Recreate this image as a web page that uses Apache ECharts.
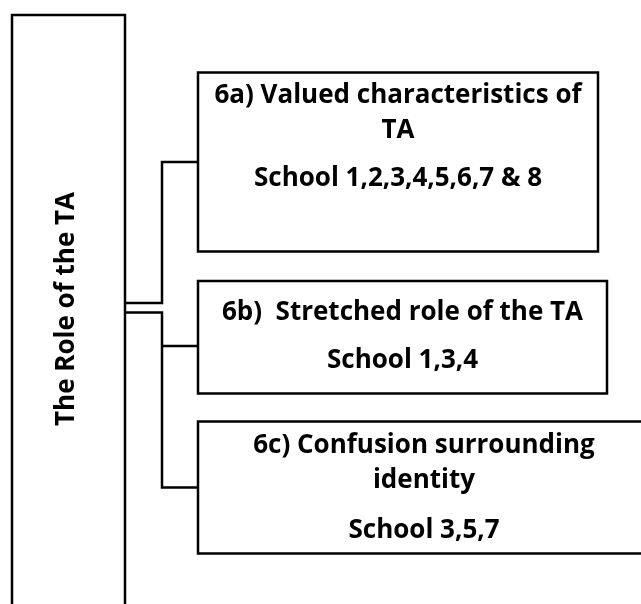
<!DOCTYPE html>
<html>
<head>
<meta charset="utf-8">
<style>
  html, body { margin: 0; padding: 0; background: #fff; }
  #main { width: 641px; height: 604px; }
</style>
<script src="https://cdn.jsdelivr.net/npm/echarts@6/dist/echarts.min.js"></script>
</head>
<body>
<div id="main"></div>
<script>
// diagram texts
var rootLabel = 'The Role of the TA';
var themeTitles = [
    ['6a) Valued characteristics of', 'TA'],
    ['6b)  Stretched role of the TA'],
    ['6c) Confusion surrounding', 'identity']
];
var themeSchools = ['School 1,2,3,4,5,6,7 & 8', 'School 1,3,4', 'School 3,5,7'];

// layout (pixels)
var FONT = 'bold 26px "Open Sans", "Noto Sans", sans-serif';
var LW = 2.5;
var rootBox = { x: 12, y: 15, w: 113, h: 620 };
var boxes = [
    { x: 198, y: 72.5, w: 400, h: 179, linkY: 162, lines: [96, 131], schoolY: 179 },
    { x: 198, y: 281, w: 409, h: 112.5, linkY: 346, lines: [313], schoolY: 361 },
    { x: 198, y: 421.5, w: 452, h: 132, linkY: 487.5, lines: [446, 481], schoolY: 531 }
];
var branchX = 162;

var myChart = echarts.init(document.getElementById('main'), null, { renderer: 'canvas' });

var elements = [];
// root box + label
elements.push({
    type: 'rect',
    shape: { x: rootBox.x, y: rootBox.y, width: rootBox.w, height: rootBox.h },
    style: { fill: '#fff', stroke: '#000', lineWidth: LW }
});
elements.push({
    type: 'text',
    x: 67, y: 309,
    rotation: Math.PI / 2,
    style: { text: rootLabel, font: FONT, fill: '#000', align: 'center', verticalAlign: 'middle' }
});

// connectors
var rootRight = rootBox.x + rootBox.w;
elements.push({
    type: 'polyline',
    shape: { points: [[rootRight, 303], [branchX, 303], [branchX, boxes[0].linkY], [boxes[0].x, boxes[0].linkY]] },
    style: { fill: null, stroke: '#000', lineWidth: LW }
});
elements.push({
    type: 'polyline',
    shape: { points: [[rootRight, 312.5], [branchX, 312.5], [branchX, boxes[2].linkY], [boxes[2].x, boxes[2].linkY]] },
    style: { fill: null, stroke: '#000', lineWidth: LW }
});
elements.push({
    type: 'polyline',
    shape: { points: [[branchX, boxes[1].linkY], [boxes[1].x, boxes[1].linkY]] },
    style: { fill: null, stroke: '#000', lineWidth: LW }
});

// theme boxes
boxes.forEach(function (b, i) {
    elements.push({
        type: 'rect',
        shape: { x: b.x, y: b.y, width: b.w, height: b.h },
        style: { fill: '#fff', stroke: '#000', lineWidth: LW }
    });
    var cx = b.x + b.w / 2;
    themeTitles[i].forEach(function (t, j) {
        elements.push({
            type: 'text', x: cx, y: b.lines[j],
            style: { text: t, font: FONT, fill: '#000', align: 'center', verticalAlign: 'middle' }
        });
    });
    elements.push({
        type: 'text', x: cx, y: b.schoolY,
        style: { text: themeSchools[i], font: FONT, fill: '#000', align: 'center', verticalAlign: 'middle' }
    });
});

var option = {
    backgroundColor: '#fff',
    animation: false,
    graphic: { elements: elements }
};
myChart.setOption(option);
</script>
</body>
</html>
